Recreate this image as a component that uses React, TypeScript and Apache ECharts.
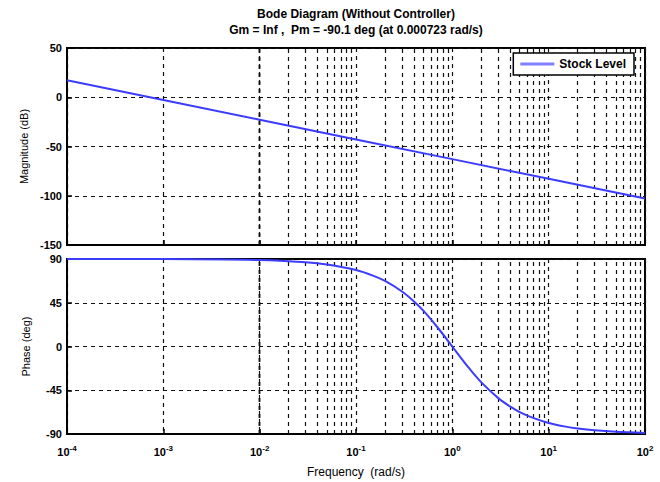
import React, { useEffect, useRef } from "react";
import * as echarts from "echarts";

// Frequency points (rad/s) and readings from the reference
const freqMag = [1e-4, 1e-3, 1e-2, 1e-1, 1, 10, 100];
const magnitudeDb = [17.2, -2.8, -22.8, -42.8, -62.8, -82.8, -102.8];

const freqPhase = [
  1e-4, 1e-3, 1e-2, 0.03, 0.05, 0.1, 0.15, 0.2, 0.3, 0.4, 0.5, 0.7, 1, 1.2, 1.5, 2, 3, 4, 5, 7, 10, 15, 20, 30, 50, 100,
];
const phaseDeg = [
  90, 89.9, 88.9, 86.6, 84.3, 78.6, 72.9, 67.4, 56.6, 46.4, 36.9, 19.8, 0, -10.4, -22.6, -36.9, -53.1, -61.9, -67.4,
  -73.7, -78.6, -82.4, -84.3, -86.2, -87.7, -88.9,
];

const magTicks = [-150, -100, -50, 0, 50];
const phaseTicks = [-90, -45, 0, 45, 90];

const titleLine1 = "Bode Diagram (Without Controller)";
const titleLine2 = "Gm = Inf ,  Pm = -90.1 deg (at 0.000723 rad/s)";

const FONT = "Liberation Sans, Arial, Helvetica, sans-serif";

const minorFreqs: number[] = [];
for (let e = -4; e <= 1; e++) {
  for (let m = 2; m <= 9; m++) minorFreqs.push(m * Math.pow(10, e));
}

const gridLine = { color: "#111", width: 1.2, type: [4, 4] as number[] };

function xAxisBase(gridIndex: number) {
  return {
    type: "log" as const,
    logBase: 10,
    gridIndex,
    min: 1e-4,
    max: 100,
    axisLine: { show: true, onZero: false, lineStyle: { color: "#000", width: 2 } },
    axisTick: { show: true, inside: true, length: 5, lineStyle: { color: "#000", width: 1.5 } },
    splitLine: { show: true, lineStyle: gridLine },
  };
}

function yAxisBase(gridIndex: number, min: number, max: number, interval: number, name: string) {
  return {
    type: "value" as const,
    gridIndex,
    min,
    max,
    interval,
    name,
    nameLocation: "middle" as const,
    nameGap: 36,
    nameTextStyle: { color: "#000", fontFamily: FONT, fontSize: 11 },
    axisLine: { show: true, onZero: false, lineStyle: { color: "#000", width: 2 } },
    axisTick: { show: true, inside: true, length: 5, lineStyle: { color: "#000", width: 1.5 } },
    axisLabel: { color: "#000", fontFamily: FONT, fontSize: 11, fontWeight: "bold" as const, margin: 5 },
    splitLine: { show: true, lineStyle: gridLine },
  };
}

const markLineMinor = {
  silent: true,
  symbol: ["none", "none"],
  label: { show: false },
  lineStyle: gridLine,
  emphasis: { disabled: true },
  data: minorFreqs.map((v) => ({ xAxis: v })),
};

export default function App() {
  const ref = useRef<HTMLDivElement>(null);
  useEffect(() => {
    if (!ref.current) return;
    const chart = echarts.init(ref.current, undefined, { renderer: "svg" });
    const option: any = {
      animation: false,
      backgroundColor: "#fff",
      graphic: [
        {
          type: "text",
          x: 356,
          y: 8,
          style: {
            text: titleLine1,
            fill: "#000",
            font: `bold 12px ${FONT}`,
            textAlign: "center",
            textVerticalAlign: "top",
          },
        },
        {
          type: "text",
          x: 356,
          y: 24,
          style: {
            text: titleLine2,
            fill: "#000",
            font: `bold 12px ${FONT}`,
            textAlign: "center",
            textVerticalAlign: "top",
          },
        },
      ],
      legend: {
        data: [{ name: "Stock Level", icon: "rect" }],
        right: 26,
        top: 53,
        z: 20,
        padding: [5, 8, 5, 7],
        borderColor: "#000",
        borderWidth: 1.5,
        backgroundColor: "#fff",
        itemWidth: 34,
        itemHeight: 3,
        itemGap: 5,
        itemStyle: { color: "#7f7fff" },
        textStyle: { color: "#000", fontFamily: FONT, fontSize: 12, fontWeight: "bold" },
      },
      grid: [
        { left: 67, top: 48, width: 578, height: 197, show: true, borderColor: "#000", borderWidth: 2, backgroundColor: "#fff" },
        { left: 67, top: 259, width: 578, height: 175, show: true, borderColor: "#000", borderWidth: 2, backgroundColor: "#fff" },
      ],
      xAxis: [
        { ...xAxisBase(0), axisLabel: { show: false } },
        {
          ...xAxisBase(1),
          name: "Frequency  (rad/s)",
          nameLocation: "middle",
          nameGap: 32,
          nameTextStyle: { color: "#000", fontFamily: FONT, fontSize: 12 },
          axisLabel: {
            margin: 10,
            formatter: (v: number) => `{b|10}{s|${Math.round(Math.log10(v))}}`,
            rich: {
              b: { color: "#000", fontFamily: FONT, fontSize: 11, fontWeight: "bold" },
              s: { color: "#000", fontFamily: FONT, fontSize: 8, fontWeight: "bold", verticalAlign: "top", padding: [0, 0, 8, 0] },
            },
          },
        },
      ],
      yAxis: [
        yAxisBase(0, magTicks[0], magTicks[magTicks.length - 1], 50, "Magnitude (dB)"),
        yAxisBase(1, phaseTicks[0], phaseTicks[phaseTicks.length - 1], 45, "Phase (deg)"),
      ],
      series: [
        {
          name: "Stock Level",
          type: "line",
          xAxisIndex: 0,
          yAxisIndex: 0,
          symbol: "none",
          lineStyle: { color: "#3c3cff", width: 2 },
          itemStyle: { color: "#3c3cff" },
          data: freqMag.map((f, i) => [f, magnitudeDb[i]]),
          markLine: markLineMinor,
          z: 5,
        },
        {
          name: "Phase",
          type: "line",
          xAxisIndex: 1,
          yAxisIndex: 1,
          symbol: "none",
          smooth: 0.3,
          lineStyle: { color: "#3c3cff", width: 2 },
          itemStyle: { color: "#3c3cff" },
          data: freqPhase.map((f, i) => [f, phaseDeg[i]]),
          markLine: markLineMinor,
          z: 5,
        },
      ],
    };
    chart.setOption(option);
    return () => chart.dispose();
  }, []);
  return <div ref={ref} style={{ position: "absolute", left: 0, top: 0, width: 660, height: 482 }} />;
}
